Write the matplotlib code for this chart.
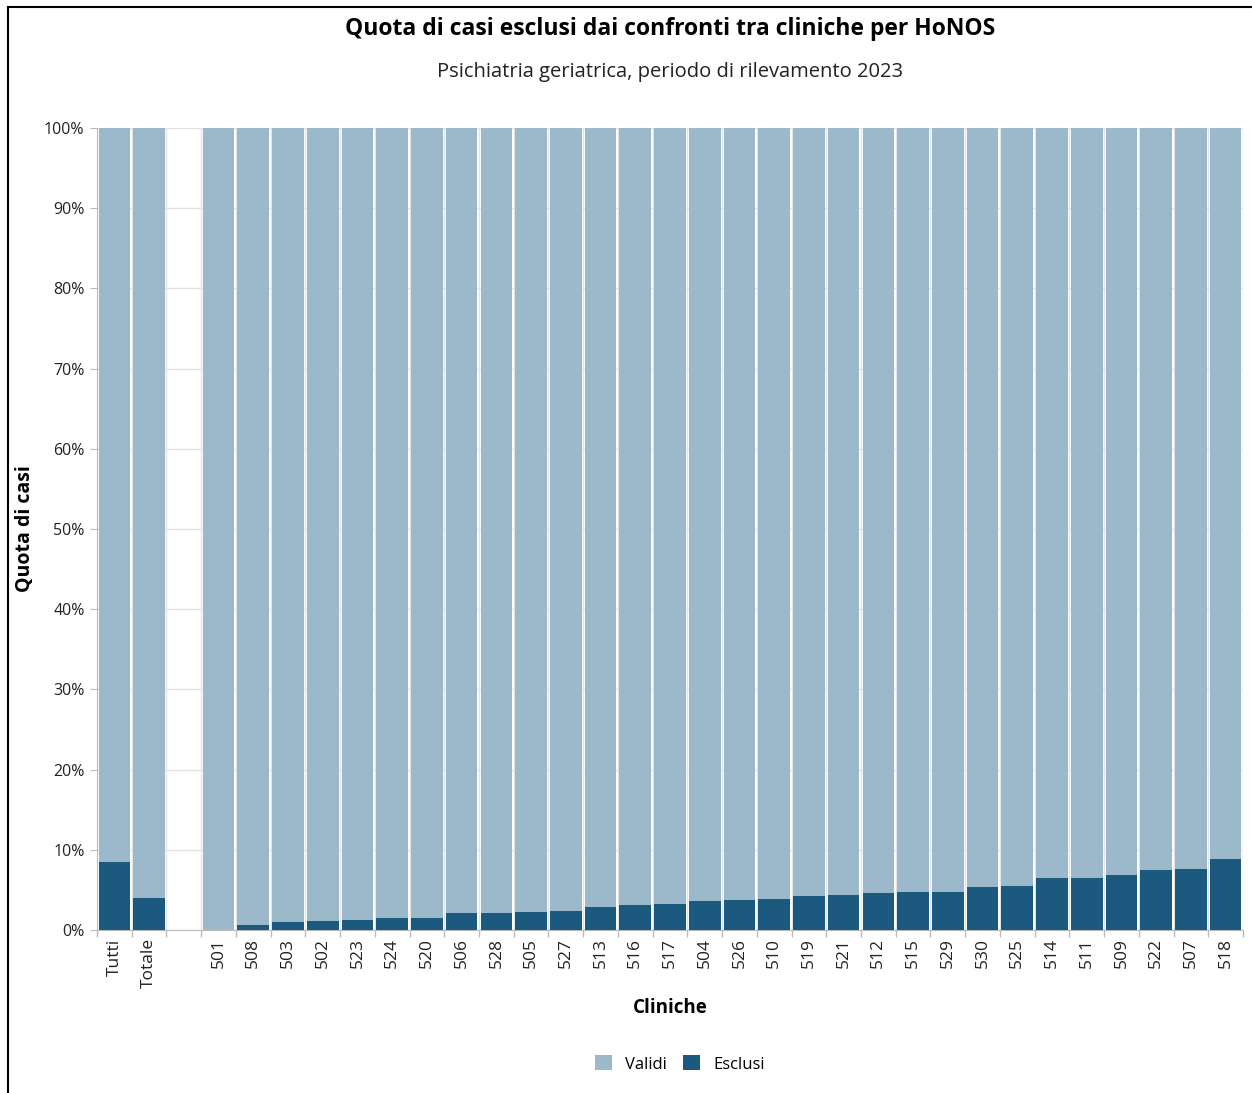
import matplotlib
matplotlib.use("Agg")
import matplotlib.pyplot as plt
import numpy as np
from matplotlib.lines import Line2D
from matplotlib.patches import Patch
from matplotlib.ticker import FuncFormatter, MultipleLocator

plt.rcParams['font.family'] = ['Open Sans', 'DejaVu Sans']

categories = ["Tutti", "Totale", "", "501", "508", "503", "502", "523", "524", "520",
              "506", "528", "505", "527", "513", "516", "517", "504", "526", "510",
              "519", "521", "512", "515", "529", "530", "525", "514", "511", "509",
              "522", "507", "518"]
esclusi = [8.5, 4.0, np.nan, 0.0, 0.6, 1.0, 1.1, 1.3, 1.45, 1.5,
           2.1, 2.1, 2.25, 2.4, 2.9, 3.1, 3.3, 3.65, 3.7, 3.9,
           4.2, 4.35, 4.6, 4.75, 4.8, 5.4, 5.5, 6.45, 6.5, 6.9,
           7.5, 7.65, 8.9]

esclusi = np.array(esclusi, dtype=float)
validi = 100.0 - esclusi

c_val = "#9BB9CB"
c_exc = "#1B5A7E"

W, H = 1252, 1093
fig = plt.figure(figsize=(W / 100, H / 100), dpi=100)
ax = fig.add_axes([0.0775, 0.1491, 0.9153, 0.7338])

x = np.arange(len(categories))
mask = ~np.isnan(esclusi)
w = 0.91
ax.bar(x[mask], esclusi[mask], width=w, color=c_exc, zorder=3, linewidth=0)
ax.bar(x[mask], validi[mask], bottom=esclusi[mask], width=w, color=c_val, zorder=3, linewidth=0)

ax.set_xlim(-0.5, len(categories) - 0.5)
ax.set_ylim(0, 100)
ax.yaxis.set_major_locator(MultipleLocator(10))
ax.yaxis.set_major_formatter(FuncFormatter(lambda v, p: f"{int(v)}%"))
ax.grid(axis='y', color='#e3e3e3', linewidth=1, zorder=0)
ax.grid(axis='x', which='minor', color='#e3e3e3', linewidth=1, zorder=0)

ax.set_xticks(x)
ax.set_xticklabels(categories, rotation=90, fontsize=12.5, color='#222222')
ax.tick_params(axis='x', which='major', length=0, pad=6)
ax.set_xticks(np.arange(-0.5, len(categories)), minor=True)
ax.tick_params(axis='x', which='minor', length=5, color='#bbbbbb', width=1)
ax.tick_params(axis='y', labelsize=11.5, length=5, color='#bbbbbb', labelcolor='#222222', pad=4)

for s in ['top', 'right']:
    ax.spines[s].set_visible(False)
ax.spines['left'].set_color('#bbbbbb')
ax.spines['bottom'].set_color('#bbbbbb')

ax.set_ylabel("Quota di casi", fontsize=14, fontweight='bold')
ax.yaxis.set_label_coords(-0.054, 0.5)
ax.set_xlabel("Cliniche", fontsize=13.5, fontweight='bold')
ax.xaxis.set_label_coords(0.5, -0.085)

fig.text(0.535, 1 - 29/H, "Quota di casi esclusi dai confronti tra cliniche per HoNOS",
         ha='center', va='center', fontsize=16.5, fontweight='bold')
fig.text(0.535, 1 - 72/H, "Psichiatria geriatrica, periodo di rilevamento 2023",
         ha='center', va='center', fontsize=14.5, color='#222222')

handles = [Patch(facecolor=c_val, label="Validi"), Patch(facecolor=c_exc, label="Esclusi")]
fig.legend(handles=handles, loc='center', bbox_to_anchor=(0.543, 1 - 1064/H), ncol=2,
           frameon=False, fontsize=12, handlelength=1.0, handleheight=1.0,
           columnspacing=1.0, handletextpad=0.8)

# frame: only top and left edges
fig.lines.append(Line2D([8/W, 1], [1 - 7/H, 1 - 7/H], transform=fig.transFigure,
                        color='black', linewidth=1.5))
fig.lines.append(Line2D([8/W, 8/W], [0, 1 - 7/H], transform=fig.transFigure,
                        color='black', linewidth=1.5))

fig.savefig("out.png", dpi=100)
